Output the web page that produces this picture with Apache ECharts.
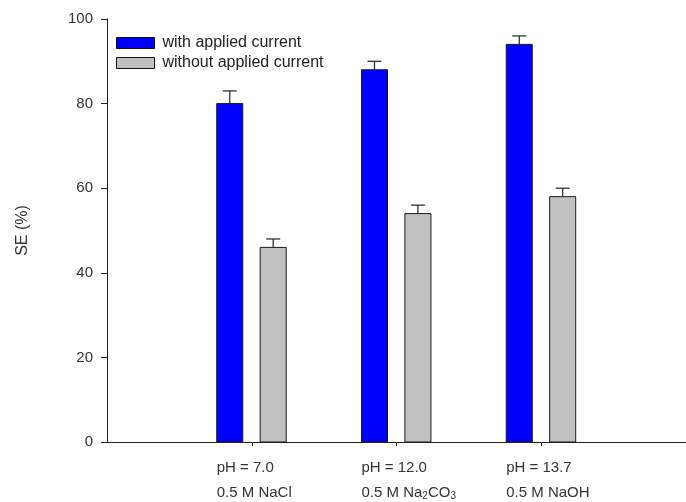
<!DOCTYPE html>
<html>
<head>
<meta charset="utf-8">
<script src="https://cdn.jsdelivr.net/npm/echarts@6/dist/echarts.min.js"></script>
<style>
  html, body { margin: 0; padding: 0; background: #fff; }
  #chart { width: 686px; height: 502px; }
</style>
</head>
<body>
<div id="chart"></div>
<script>
// Electrolyte conditions (x categories); "_n" marks a subscript digit
const phLabels = ['pH = 7.0', 'pH = 12.0', 'pH = 13.7'];
const saltLabels = ['0.5 M NaCl', '0.5 M Na_2CO_3', '0.5 M NaOH'];

// SE (%) values and standard errors
const withCurrent = [80, 88, 94];
const withCurrentErr = [3, 2, 2];
const withoutCurrent = [46, 54, 58];
const withoutCurrentErr = [2, 2, 2];

const seriesNames = ['with applied current', 'without applied current'];
const yTicks = [0, 20, 40, 60, 80, 100];

// Layout / style constants
const BAR_W = 0.18;          // bar width in axis units
const OFFSETS = [-0.152, 0.148];
const CAP = 14;              // error cap width in px
const COLORS = ['#0000ff', '#c0c0c0'];
const TEXT = '#333';

const chart = echarts.init(document.getElementById('chart'), null, { renderer: 'canvas' });

function barSeries(name, values, k) {
  return {
    name: name,
    type: 'custom',
    itemStyle: { color: COLORS[k], borderColor: '#111', borderWidth: 1 },
    data: values.map((v, i) => [i + 1, v]),
    renderItem: function (params, api) {
      const x = api.value(0) + OFFSETS[k];
      const top = api.coord([x, api.value(1)]);
      const base = api.coord([x, 0]);
      const w = api.size([BAR_W, 0])[0];
      return {
        type: 'rect',
        shape: { x: top[0] - w / 2, y: top[1], width: w, height: base[1] - top[1] },
        style: { fill: COLORS[k], stroke: '#1a1a1a', lineWidth: 1 }
      };
    },
    z: 2
  };
}

function errSeries(values, errs, k) {
  return {
    type: 'custom',
    silent: true,
    data: values.map((v, i) => [i + 1, v, errs[i]]),
    renderItem: function (params, api) {
      const x = api.value(0) + OFFSETS[k];
      const p0 = api.coord([x, api.value(1)]);
      const p1 = api.coord([x, api.value(1) + api.value(2)]);
      const st = { stroke: '#222', lineWidth: 1.2 };
      return {
        type: 'group',
        children: [
          { type: 'line', shape: { x1: p0[0], y1: p0[1], x2: p1[0], y2: p1[1] }, style: st },
          { type: 'line', shape: { x1: p1[0] - CAP / 2, y1: p1[1], x2: p1[0] + CAP / 2, y2: p1[1] }, style: st }
        ]
      };
    },
    z: 3
  };
}

// turn "Na_2CO_3" into rich-text fragments with subscripts
function saltRich(s) {
  return ('{b|' + s.replace(/_(\d)/g, '}{s|$1}{b|') + '}').replace(/\{b\|\}/g, '');
}

const option = {
  animation: false,
  backgroundColor: '#fff',
  textStyle: { fontFamily: 'Liberation Sans, Arial, sans-serif' },
  grid: { left: 107, top: 19, width: 582, height: 423 },
  legend: {
    data: seriesNames,
    left: 116,
    top: 35,
    padding: 0,
    orient: 'vertical',
    icon: 'rect',
    itemWidth: 38,
    itemHeight: 11,
    itemGap: 4,
    itemStyle: { borderColor: '#111', borderWidth: 1 },
    textStyle: { fontSize: 16, color: '#222', padding: [0, 0, 0, 3] },
    selectedMode: false
  },
  xAxis: {
    type: 'value',
    min: 0,
    max: 4,
    interval: 1,
    splitLine: { show: false },
    axisLine: { show: true, lineStyle: { color: '#222', width: 1 } },
    axisTick: { show: true, customValues: [1, 2, 3], length: 4, lineStyle: { color: '#222' } },
    axisLabel: {
      customValues: [1, 2, 3],
      margin: 13,
      align: 'left',
      padding: [0, 0, 0, -35],
      color: TEXT,
      formatter: function (v) {
        const i = Math.round(v) - 1;
        return '{a|' + phLabels[i] + '}\n' + saltRich(saltLabels[i]);
      },
      rich: {
        a: { fontSize: 15, lineHeight: 25, color: TEXT, fontFamily: 'Liberation Sans' },
        b: { fontSize: 15, lineHeight: 25, color: TEXT, fontFamily: 'Liberation Sans' },
        s: { fontSize: 10, lineHeight: 25, color: TEXT, fontFamily: 'Liberation Sans', padding: [8, 0, 0, 0] }
      }
    }
  },
  yAxis: {
    type: 'value',
    min: 0,
    max: 100,
    interval: 20,
    name: 'SE (%)',
    nameLocation: 'middle',
    nameGap: 76,
    nameTextStyle: { fontSize: 16, color: TEXT },
    splitLine: { show: false },
    axisLine: { show: true, lineStyle: { color: '#222', width: 1 } },
    axisTick: { show: true, length: 6, lineStyle: { color: '#222' } },
    axisLabel: {
      margin: 14,
      fontSize: 15,
      color: TEXT,
      formatter: function (v) { return yTicks.indexOf(v) >= 0 ? String(v) : ''; }
    }
  },
  series: [
    barSeries(seriesNames[0], withCurrent, 0),
    barSeries(seriesNames[1], withoutCurrent, 1),
    errSeries(withCurrent, withCurrentErr, 0),
    errSeries(withoutCurrent, withoutCurrentErr, 1)
  ]
};

chart.setOption(option);
</script>
</body>
</html>
